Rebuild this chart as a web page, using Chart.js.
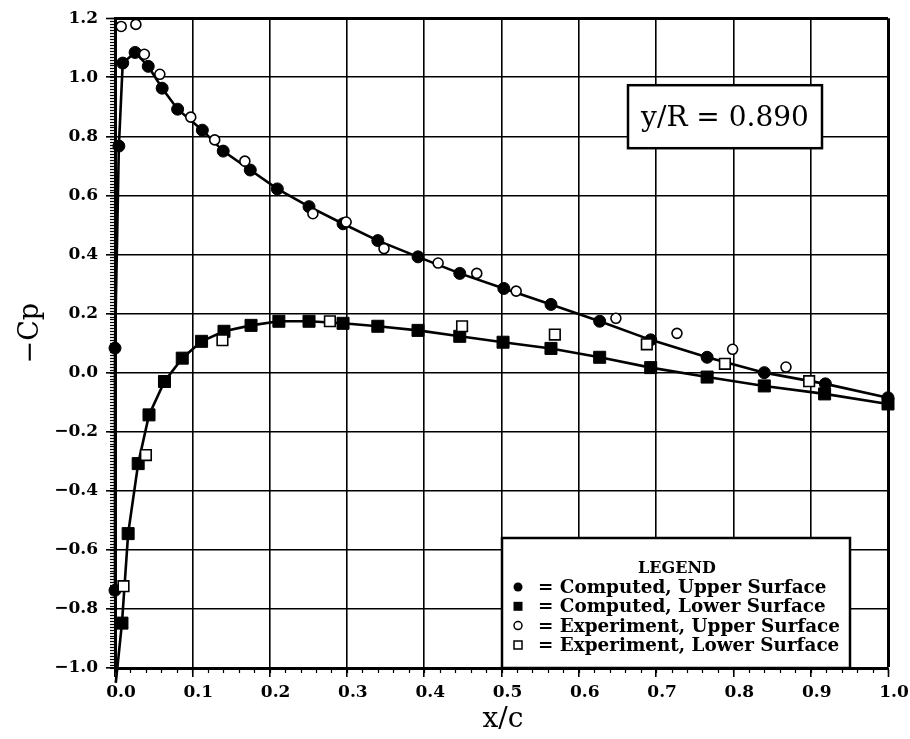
<!DOCTYPE html>
<html>
<head>
<meta charset="utf-8">
<script src="https://cdn.jsdelivr.net/npm/chart.js@4/dist/chart.umd.min.js"></script>
<style>
  html, body { margin: 0; padding: 0; background: #fff; }
  canvas { display: block; }
</style>
</head>
<body>
<canvas id="c" width="910" height="739"></canvas>
<script>
// ---- data (x/c, -Cp) ----
const compUpperX = [0.0, 0.0, 0.005, 0.010, 0.026, 0.043, 0.061, 0.081, 0.113, 0.140, 0.175, 0.210, 0.251, 0.295, 0.340, 0.392, 0.446, 0.503, 0.564, 0.627, 0.693, 0.766, 0.840, 0.919, 1.0];
const compUpperY = [-0.737, 0.083, 0.767, 1.048, 1.084, 1.037, 0.963, 0.892, 0.821, 0.750, 0.686, 0.622, 0.562, 0.504, 0.447, 0.392, 0.336, 0.285, 0.231, 0.174, 0.111, 0.052, 0.0, -0.038, -0.085];

const compLowerX = [0.001, 0.009, 0.017, 0.030, 0.044, 0.064, 0.087, 0.112, 0.141, 0.176, 0.212, 0.251, 0.295, 0.340, 0.392, 0.446, 0.502, 0.564, 0.627, 0.693, 0.766, 0.840, 0.918, 1.0];
const compLowerY = [-1.05, -0.848, -0.545, -0.308, -0.143, -0.030, 0.049, 0.106, 0.140, 0.160, 0.174, 0.174, 0.167, 0.157, 0.143, 0.123, 0.103, 0.082, 0.052, 0.017, -0.015, -0.045, -0.072, -0.106];

const expUpperX = [0.008, 0.027, 0.038, 0.058, 0.098, 0.129, 0.168, 0.256, 0.299, 0.348, 0.418, 0.468, 0.519, 0.648, 0.727, 0.799, 0.868];
const expUpperY = [1.172, 1.179, 1.078, 1.010, 0.865, 0.788, 0.716, 0.538, 0.510, 0.420, 0.371, 0.336, 0.276, 0.184, 0.133, 0.079, 0.019];

const expLowerX = [0.011, 0.040, 0.139, 0.278, 0.449, 0.569, 0.688, 0.789, 0.898];
const expLowerY = [-0.723, -0.279, 0.110, 0.174, 0.157, 0.129, 0.096, 0.030, -0.029];

const xTickValues = [0.0, 0.1, 0.2, 0.3, 0.4, 0.5, 0.6, 0.7, 0.8, 0.9, 1.0];
const xTickLabels = ['0.0', '0.1', '0.2', '0.3', '0.4', '0.5', '0.6', '0.7', '0.8', '0.9', '1.0'];
const yTickValues = [-1.0, -0.8, -0.6, -0.4, -0.2, 0.0, 0.2, 0.4, 0.6, 0.8, 1.0, 1.2];
const yTickLabels = ['\u22121.0', '\u22120.8', '\u22120.6', '\u22120.4', '\u22120.2', '0.0', '0.2', '0.4', '0.6', '0.8', '1.0', '1.2'];

const legendTitle = 'LEGEND';
const legendEntries = ['= Computed, Upper Surface', '= Computed, Lower Surface', '= Experiment, Upper Surface', '= Experiment, Lower Surface'];
const stationLabel = 'y/R = 0.890';
const xTitle = 'x/c';
const yTitle = '\u2212Cp';

const zip = (xs, ys) => xs.map((x, i) => ({ x: x, y: ys[i] }));

const SERIF = '"DejaVu Serif", "Liberation Serif", serif';

function drawMarker(ctx, kind, cx, cy, s) {
  ctx.save();
  ctx.lineWidth = 1.5;
  ctx.strokeStyle = '#000';
  ctx.beginPath();
  if (kind === 0 || kind === 2) ctx.arc(cx, cy, s / 2, 0, Math.PI * 2);
  else ctx.rect(cx - s / 2, cy - s / 2, s, s);
  if (kind < 2) { ctx.fillStyle = '#000'; ctx.fill(); }
  else { ctx.fillStyle = '#fff'; ctx.fill(); ctx.stroke(); }
  ctx.restore();
}

const decor = {
  id: 'decor',
  beforeDatasetsDraw(chart) {
    const { ctx, chartArea: a, scales: { x, y } } = chart;
    ctx.save();
    ctx.strokeStyle = '#000';
    ctx.lineWidth = 1.2;
    // minor ticks on x axis (every 0.02)
    for (let i = 0; i <= 50; i++) {
      const px = Math.round(x.getPixelForValue(i / 50)) + 0.5;
      ctx.beginPath(); ctx.moveTo(px, a.bottom); ctx.lineTo(px, a.bottom + 5); ctx.stroke();
    }
    // minor ticks on y axis (every 0.01)
    for (let i = 0; i <= 220; i++) {
      const py = Math.round(y.getPixelForValue(-1 + i / 100)) + 0.5;
      ctx.beginPath(); ctx.moveTo(a.left - 5, py); ctx.lineTo(a.left + 1, py); ctx.stroke();
    }
    ctx.restore();
  },
  afterDatasetsDraw(chart) {
    const { ctx, chartArea: a } = chart;
    ctx.save();
    // station box
    const bx = a.left + 513, by = a.top + 67, bw = 194, bh = 63;
    ctx.fillStyle = '#fff';
    ctx.fillRect(bx, by, bw, bh);
    ctx.lineWidth = 2.5; ctx.strokeStyle = '#000';
    ctx.strokeRect(bx, by, bw, bh);
    ctx.fillStyle = '#000';
    ctx.font = '28px ' + SERIF;
    ctx.textAlign = 'center'; ctx.textBaseline = 'alphabetic';
    ctx.fillText(stationLabel, bx + bw / 2, by + 41);

    // legend box
    const lx = a.left + 387, ly = a.bottom - 130, lw = 348, lh = 130;
    ctx.fillStyle = '#fff';
    ctx.fillRect(lx, ly, lw, lh);
    ctx.lineWidth = 2.5;
    ctx.strokeRect(lx, ly, lw, lh);
    ctx.fillStyle = '#000';
    ctx.font = 'bold 16px ' + SERIF;
    ctx.textAlign = 'center';
    ctx.fillText(legendTitle, lx + 175, ly + 35);
    // fit entry font to width of the longest entry
    let fs = 18;
    ctx.font = 'bold ' + fs + 'px ' + SERIF;
    const w = ctx.measureText(legendEntries[2]).width;
    fs = fs * 302 / w;
    ctx.font = 'bold ' + fs.toFixed(2) + 'px ' + SERIF;
    ctx.textAlign = 'left';
    for (let i = 0; i < legendEntries.length; i++) {
      const base = ly + 55 + i * 19.3;
      drawMarker(ctx, i, lx + 16, base - 6, i < 2 ? 9 : 8);
      ctx.fillText(legendEntries[i], lx + 36, base);
    }

    // axis titles
    ctx.font = '28px ' + SERIF;
    ctx.textAlign = 'center';
    ctx.fillText(xTitle, a.left + 388, a.bottom + 59);
    ctx.save();
    ctx.translate(38, a.top + 315);
    ctx.rotate(-Math.PI / 2);
    ctx.font = '27px ' + SERIF;
    ctx.fillText(yTitle, 0, 0);
    ctx.restore();
    ctx.restore();
  }
};

const tickFont = { family: SERIF, size: 17, weight: 'bold' };

new Chart(document.getElementById('c'), {
  type: 'scatter',
  data: {
    datasets: [
      { label: 'Computed, Upper Surface', data: zip(compUpperX, compUpperY), showLine: true,
        borderColor: '#000', borderWidth: 2.6, backgroundColor: '#000',
        pointStyle: 'circle', pointRadius: 6, pointBorderWidth: 1, pointBackgroundColor: '#000', pointBorderColor: '#000',
        order: 1, clip: false },
      { label: 'Computed, Lower Surface', data: zip(compLowerX, compLowerY), showLine: true,
        borderColor: '#000', borderWidth: 2.6, backgroundColor: '#000',
        pointStyle: 'rect', pointRadius: 8.5, pointBorderWidth: 1, pointBackgroundColor: '#000', pointBorderColor: '#000',
        order: 1, clip: false },
      { label: 'Experiment, Upper Surface', data: zip(expUpperX, expUpperY), showLine: false,
        pointStyle: 'circle', pointRadius: 5, pointBorderWidth: 1.6, pointBackgroundColor: '#fff', pointBorderColor: '#000',
        order: 0, clip: false },
      { label: 'Experiment, Lower Surface', data: zip(expLowerX, expLowerY), showLine: false,
        pointStyle: 'rect', pointRadius: 7.5, pointBorderWidth: 1.6, pointBackgroundColor: '#fff', pointBorderColor: '#000',
        order: 0, clip: false }
    ]
  },
  options: {
    responsive: false,
    animation: false,
    devicePixelRatio: 1,
    layout: { padding: { left: 0, top: 13.5, right: 22, bottom: 0 } },
    plugins: { legend: { display: false }, tooltip: { enabled: false } },
    scales: {
      x: {
        type: 'linear', min: 0, max: 1,
        afterBuildTicks: s => { s.ticks = xTickValues.map(v => ({ value: v })); },
        afterFit: s => { s.height = 71; },
        ticks: { color: '#000', font: tickFont, padding: 5, labelOffset: 6, maxRotation: 0,
                 callback: (v, i) => xTickLabels[i] },
        grid: { color: '#000', lineWidth: c => (c.tick && c.tick.value === 1 ? 3 : 1.6), tickLength: 9, tickWidth: 1.6 },
        border: { color: '#000', width: 3 }
      },
      y: {
        type: 'linear', min: -1, max: 1.2,
        afterBuildTicks: s => { s.ticks = yTickValues.map(v => ({ value: v })); },
        afterFit: s => { s.width = 115; },
        ticks: { color: '#000', font: tickFont, padding: 8,
                 callback: (v, i) => yTickLabels[i] },
        grid: { color: '#000', lineWidth: c => (c.tick && Math.abs(c.tick.value - 1.2) < 1e-9 ? 3 : 1.6), tickLength: 9, tickWidth: 1.6 },
        border: { color: '#000', width: 3 }
      }
    }
  },
  plugins: [decor]
});
</script>
</body>
</html>
